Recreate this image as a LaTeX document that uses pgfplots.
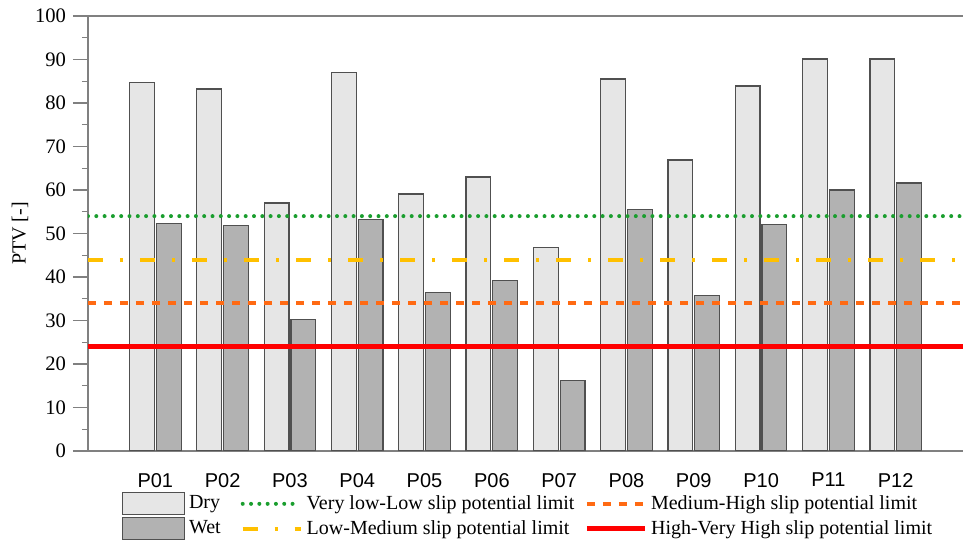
\documentclass[border=0pt]{standalone}
\usepackage{fontspec}
\setmainfont{Liberation Serif}
\setsansfont{Liberation Sans}
\usepackage{pgfplots}
\pgfplotsset{compat=1.18}
\definecolor{dryc}{HTML}{E6E6E6}
\definecolor{wetc}{HTML}{B2B2B2}
\definecolor{edgec}{HTML}{505050}
\definecolor{axgray}{HTML}{808080}
\definecolor{limgreen}{HTML}{1A9E2E}
\definecolor{limyellow}{HTML}{FFC000}
\definecolor{limorange}{HTML}{FF6A13}
\definecolor{limred}{HTML}{FF0000}
\pgfplotsset{
  barleg/.style={legend image code/.code={\draw[##1] (0pt,-5.5pt) rectangle (31pt,5.5pt);}},
  lineleg/.style={legend image code/.code={\draw[##1] (0pt,0pt) -- (29pt,0pt);}},
  greenline/.style={color=limgreen, line width=2pt, line cap=round, dash pattern=on 0pt off 4.15pt},
  yellowline/.style={color=limyellow, line width=2pt, dash pattern=on 7.5pt off 8.5pt on 1.5pt off 8.5pt},
  orangeline/.style={color=limorange, line width=1.8pt, dash pattern=on 4pt off 4pt},
  redline/.style={color=limred, line width=2.3pt},
}
\begin{document}
\begin{tikzpicture}[font=\fontsize{10}{12}\selectfont]
\path[use as bounding box] (-44pt,-47pt) rectangle (437.5pt,225.5pt);
\begin{axis}[
  at={(0,0)}, anchor=south west,
  scale only axis, width=437.5pt, height=217.5pt,
  xmin=0, xmax=13, ymin=0, ymax=100,
  xtick={1,2,3,4,5,6,7,8,9,10,11,12},
  xticklabels={P01,P02,P03,P04,P05,P06,P07,P08,P09,P10,P11,P12},
  ytick={0,10,...,100}, minor y tick num=1,
  axis x line=box, axis y line=left,
  axis line style={-, draw=axgray, line width=0.75pt},
  tick align=outside, major tick length=7.5pt, minor tick length=3pt,
  x tick style={draw=none},
  y tick style={draw=axgray, line width=0.6pt},
  xticklabel style={font=\fontsize{10}{12}\sffamily\selectfont},
  yticklabel style={font=\fontsize{10.3}{12}\selectfont},
  /pgf/number format/assume math mode=true,
  ylabel={PTV [-]},
  ylabel shift=-3.5pt,
  ylabel style={font=\fontsize{10}{12}\selectfont},
  legend columns=3,
  legend cell align=left,
  legend style={draw=none, fill=none, at={(axis description cs:0.504,0)}, anchor=north, yshift=-18pt,
    font=\fontsize{10}{12}\selectfont,
    /tikz/column 2/.style={column sep=8pt},
    /tikz/column 4/.style={column sep=3pt},
    row sep=0pt},
]
\addplot[ybar, bar width=12.4pt, bar shift=-6.7pt, fill=dryc, draw=edgec, line width=0.6pt, forget plot]
  coordinates {(1,84.8) (2,83.2) (3,57.0) (4,87.1) (5,59.1) (6,63.0) (7,46.7) (8,85.5) (9,66.9) (10,83.9) (11,90.1) (12,90.1)};
\addplot[ybar, bar width=12.4pt, bar shift=6.7pt, fill=wetc, draw=edgec, line width=0.6pt, forget plot]
  coordinates {(1,52.3) (2,51.9) (3,30.3) (4,53.3) (5,36.4) (6,39.2) (7,16.2) (8,55.5) (9,35.7) (10,52.1) (11,60.0) (12,61.6)};
\addplot[greenline, forget plot] coordinates {(0,54) (13,54)};
\addplot[yellowline, forget plot] coordinates {(0,44) (13,44)};
\addplot[orangeline, forget plot] coordinates {(0,34) (13,34)};
\addplot[redline, forget plot] coordinates {(0,24) (13,24)};
\addlegendimage{barleg, fill=dryc, draw=edgec, line width=0.6pt}
\addlegendentry{Dry}
\addlegendimage{lineleg, greenline}
\addlegendentry{Very low-Low slip potential limit}
\addlegendimage{lineleg, orangeline}
\addlegendentry{Medium-High slip potential limit}
\addlegendimage{barleg, fill=wetc, draw=edgec, line width=0.6pt}
\addlegendentry{Wet}
\addlegendimage{lineleg, yellowline}
\addlegendentry{Low-Medium slip potential limit}
\addlegendimage{lineleg, redline}
\addlegendentry{High-Very High slip potential limit}
\end{axis}
\end{tikzpicture}
\end{document}
